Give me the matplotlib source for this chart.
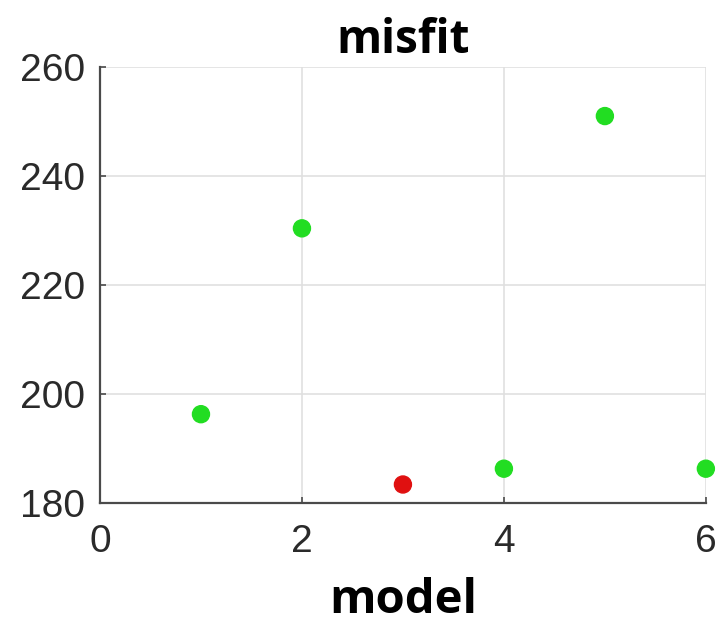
import matplotlib
matplotlib.use('Agg')
import matplotlib.pyplot as plt

# data
model = [1, 2, 3, 4, 5, 6]
misfit = [196.3, 230.4, 183.4, 186.3, 251.0, 186.3]
colors = ['#22dd22', '#22dd22', '#e01010', '#22dd22', '#22dd22', '#22dd22']
xticks = [0, 2, 4, 6]
yticks = [180, 200, 220, 240, 260]

fig = plt.figure(figsize=(7.23, 6.28), dpi=100)
ax = fig.add_axes([0.1383, 0.199, 0.838, 0.6943])

ax.scatter(model, misfit, c=colors, s=150, zorder=3, clip_on=False)

ax.set_xlim(0, 6)
ax.set_ylim(180, 260)
ax.set_xticks(xticks)
ax.set_yticks(yticks)
ax.grid(True, color='#e0e0e0', linewidth=1.2)
ax.set_axisbelow(True)

for s in ['top', 'right']:
    ax.spines[s].set_visible(False)
for s in ['left', 'bottom']:
    ax.spines[s].set_color('#4a4a4a')
    ax.spines[s].set_linewidth(1.6)

ax.tick_params(direction='in', length=4, width=1.2, colors='#4a4a4a',
               labelsize=28, labelcolor='#2a2a2a')
ax.tick_params(axis='x', pad=15)
ax.tick_params(axis='y', pad=11)
for lab in ax.get_xticklabels() + ax.get_yticklabels():
    lab.set_family('Liberation Sans')

ax.set_title('misfit', fontsize=33, fontweight='bold', family='Open Sans', pad=10)
ax.set_xlabel('model', fontsize=34, fontweight='bold', family='Open Sans')
ax.xaxis.label.set_va('baseline')
ax.xaxis.set_label_coords(0.5, -0.252)

fig.savefig('out.png', dpi=100)
